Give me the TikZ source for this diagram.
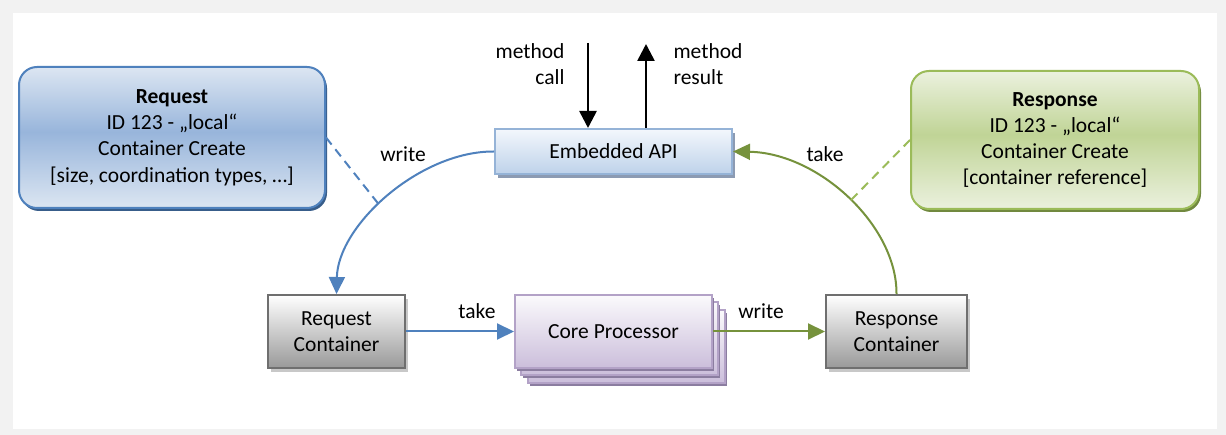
\documentclass[tikz,border=0pt]{standalone}
\usepackage{fontspec}
\setmainfont{Carlito}
\usetikzlibrary{arrows.meta,shadows}

% palette
\definecolor{bgGray}{HTML}{F2F2F2}
\definecolor{rqBorder}{HTML}{4F81BD}
\definecolor{rqLight}{HTML}{DCE6F2}
\definecolor{rqMid}{HTML}{98B5DB}
\definecolor{rqShadow}{HTML}{385D8A}
\definecolor{rsBorder}{HTML}{9BBB59}
\definecolor{rsLight}{HTML}{EBF1DE}
\definecolor{rsMid}{HTML}{C0D496}
\definecolor{rsShadow}{HTML}{71893F}
\definecolor{apiTop}{HTML}{F3F7FC}
\definecolor{apiBot}{HTML}{BED2EA}
\definecolor{apiBorder}{HTML}{95B3D7}
\definecolor{apiShadow}{HTML}{8C9BB3}
\definecolor{grTop}{HTML}{FFFFFF}
\definecolor{grBot}{HTML}{999999}
\definecolor{grBorder}{HTML}{6F6F6F}
\definecolor{grShadow}{HTML}{C8C8C8}
\definecolor{cpTop}{HTML}{FBFAFC}
\definecolor{cpBot}{HTML}{CBBEDB}
\definecolor{cpBorder}{HTML}{B3A2C7}
\definecolor{cpShadow}{HTML}{8B7DA0}
\definecolor{flowBlue}{HTML}{4F81BD}
\definecolor{flowGreen}{HTML}{76923C}
\definecolor{dashGreen}{HTML}{9BBB59}

% light - darker - light bands for the two message cards
\pgfdeclareverticalshading{reqshade}{100bp}{color(0bp)=(rqLight); color(25bp)=(rqLight); color(52bp)=(rqMid); color(75bp)=(rqLight); color(100bp)=(rqLight)}
\pgfdeclareverticalshading{resshade}{100bp}{color(0bp)=(rsLight); color(25bp)=(rsLight); color(52bp)=(rsMid); color(75bp)=(rsLight); color(100bp)=(rsLight)}

\tikzset{
  txt/.style={font=\fontsize{21.5pt}{26.3pt}\selectfont, text=black, align=center},
  card/.style={txt, rounded corners=18pt, line width=2pt, inner sep=0pt},
  reqcard/.style={card, draw=rqBorder, shading=reqshade,
    general shadow={fill=rqShadow, shadow xshift=2pt, shadow yshift=-3pt},
    minimum width=306pt, minimum height=141pt},
  rescard/.style={card, draw=rsBorder, shading=resshade,
    general shadow={fill=rsShadow, shadow xshift=2pt, shadow yshift=-3pt},
    minimum width=288pt, minimum height=138pt},
  apibox/.style={txt, draw=apiBorder, line width=2pt, top color=apiTop, bottom color=apiBot,
    general shadow={fill=apiShadow, shadow xshift=3pt, shadow yshift=-4pt},
    minimum width=237pt, minimum height=45pt, inner sep=0pt},
  storebox/.style={txt, draw=grBorder, line width=2pt, top color=grTop, bottom color=grBot,
    general shadow={fill=grShadow, shadow xshift=3pt, shadow yshift=-4pt},
    minimum height=73pt, inner sep=0pt},
  procbox/.style={txt, draw=cpBorder, line width=2pt, top color=cpTop, bottom color=cpBot,
    general shadow={fill=cpShadow, shadow xshift=2pt, shadow yshift=-3pt},
    minimum width=197pt, minimum height=73pt, inner sep=0pt},
  lbl/.style={txt},
  flowblue/.style={draw=flowBlue, line width=2pt, -{Triangle[length=17pt,width=16pt]}},
  flowgreen/.style={draw=flowGreen, line width=2pt, -{Triangle[length=17pt,width=16pt]}},
  callarrow/.style={draw=black, line width=2.6pt, -{Triangle[length=17pt,width=17pt]}},
  linkblue/.style={draw=flowBlue, line width=2pt, dash pattern=on 9pt off 6pt},
  linkgreen/.style={draw=dashGreen, line width=2pt, dash pattern=on 9pt off 6pt},
}

\begin{document}
\begin{tikzpicture}[x=1pt, y=-1pt]
  % frame
  \useasboundingbox (0,0) rectangle (1226,435);
  \fill[bgGray] (0,0) rectangle (1226,435);
  \fill[white] (13,13) rectangle (1217,429);

  % message cards
  \node[reqcard] (req) at (172,137.5)
    {\textbf{Request}\\ID 123 - „local“\\Container Create\\{}[size, coordination types, …]};
  \node[rescard] (res) at (1055,140)
    {\textbf{Response}\\ID 123 - „local“\\Container Create\\{}[container reference]};

  % API entry point
  \node[apibox] (api) at (613.5,151.5) {Embedded API};

  % containers
  \node[storebox, minimum width=137pt] (reqc) at (336.5,331.5) {Request\\Container};
  \node[storebox, minimum width=141pt] (resc) at (896.5,331.5) {Response\\Container};

  % stacked processors
  \node[procbox] (coreC) at (626.5,346.5) {};
  \node[procbox] (coreB) at (619.5,338.5) {};
  \node[procbox] (core) at (613.5,331.5) {Core Processor};

  % method call / result
  \coordinate (callTop) at (588,43);
  \coordinate (resultTop) at (646,44);
  \draw[callarrow] (callTop) -- (callTop |- api.north);
  \draw[callarrow] (resultTop |- api.north) -- (resultTop);
  \node[lbl, anchor=east, align=right] (calltxt) at (568,64) {method\\call};
  \node[lbl, anchor=west, align=left] (resulttxt) at (670,64) {method\\result};

  % request path
  \draw[flowblue] (api.west) .. controls (420,151) and (338,225) .. (reqc.north)
    coordinate[pos=0.55] (reqTouch);
  \draw[linkblue] (req.east) -- (reqTouch);
  \node[lbl] (writeA) at (403,154) {write};

  \draw[flowblue] (reqc) -- (core);
  \node[lbl] (takeB) at (477,311) {take};

  % response path
  \draw[flowgreen] (core) -- (resc);
  \node[lbl] (writeB) at (761,311) {write};

  \draw[flowgreen] (resc.north) .. controls (897,225) and (818,153) .. (api.east)
    coordinate[pos=0.48] (resTouch);
  \draw[linkgreen] (res.west) -- (resTouch);
  \node[lbl] (takeA) at (825,154) {take};
\end{tikzpicture}
\end{document}
